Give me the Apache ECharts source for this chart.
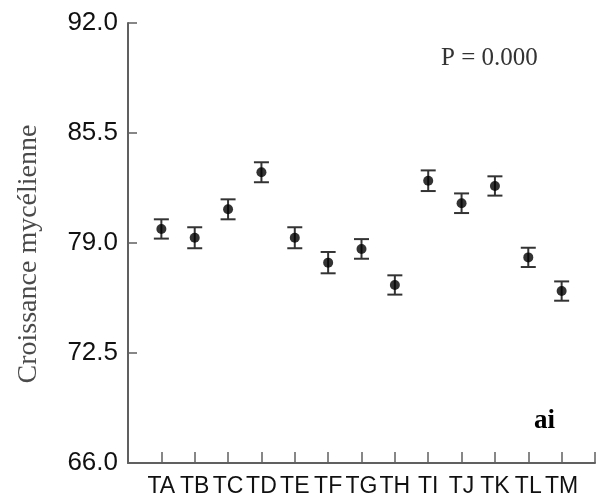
<!DOCTYPE html>
<html>
<head>
<meta charset="utf-8">
<script src="https://cdn.jsdelivr.net/npm/echarts@6/dist/echarts.min.js"></script>
<style>html,body{margin:0;padding:0;background:#fff}#c{width:598px;height:498px}</style>
</head>
<body>
<div id="c"></div>
<script>
var categories = ['TA','TB','TC','TD','TE','TF','TG','TH','TI','TJ','TK','TL','TM'];
var means = [79.83, 79.31, 80.99, 83.18, 79.31, 77.84, 78.65, 76.52, 82.68, 81.35, 82.37, 78.15, 76.16];
var errors = [0.57, 0.62, 0.59, 0.59, 0.62, 0.63, 0.58, 0.57, 0.61, 0.58, 0.57, 0.57, 0.57];
var yTicks = [66.0, 72.5, 79.0, 85.5, 92.0];
var yTitle = 'Croissance mycélienne';
var pText = 'P = 0.000';
var panelText = 'ai';

var axisCats = [''].concat(categories).concat(['']);
var points = means.map(function(v, i){ return [i + 1, v]; });
var bars = means.map(function(v, i){ return [i + 1, v - errors[i], v + errors[i]]; });

var chart = echarts.init(document.getElementById('c'));
chart.setOption({
  animation: false,
  backgroundColor: '#fff',
  grid: { left: 128, top: 23, bottom: 35, right: -9.5, containLabel: false },
  xAxis: {
    type: 'category',
    data: axisCats,
    boundaryGap: false,
    axisLine: { lineStyle: { color: '#606060', width: 2 } },
    axisTick: { inside: false, length: -11, lineStyle: { color: '#606060', width: 1.5 }, interval: 0 },
    axisLabel: { interval: 0, color: '#111', fontFamily: 'Liberation Sans, Arial', fontSize: 23, margin: 12 },
    splitLine: { show: false }
  },
  yAxis: {
    type: 'value',
    min: yTicks[0],
    max: yTicks[yTicks.length - 1],
    interval: 6.5,
    axisLine: { show: true, lineStyle: { color: '#606060', width: 2 } },
    axisTick: { show: true, inside: false, length: -9, lineStyle: { color: '#606060', width: 1.5 } },
    axisLabel: { color: '#111', fontFamily: 'Liberation Sans, Arial', fontSize: 26, margin: 10,
      formatter: function(v){ return v.toFixed(1); } },
    splitLine: { show: false }
  },
  series: [
    {
      type: 'custom',
      data: bars,
      renderItem: function(params, api){
        var x = api.value(0);
        var lo = api.coord([x, api.value(1)]);
        var hi = api.coord([x, api.value(2)]);
        var hw = 7.5;
        var st = { stroke: '#333', lineWidth: 2, fill: null };
        return { type: 'group', children: [
          { type: 'line', shape: { x1: lo[0], y1: lo[1], x2: hi[0], y2: hi[1] }, style: st },
          { type: 'line', shape: { x1: lo[0]-hw, y1: lo[1], x2: lo[0]+hw, y2: lo[1] }, style: st },
          { type: 'line', shape: { x1: hi[0]-hw, y1: hi[1], x2: hi[0]+hw, y2: hi[1] }, style: st }
        ]};
      },
      z: 2
    },
    {
      type: 'scatter',
      data: points,
      symbol: 'circle',
      symbolSize: 10,
      itemStyle: { color: '#000' },
      z: 3
    }
  ],
  graphic: [
    { type: 'text', x: 29, y: 254, rotation: Math.PI / 2,
      style: { text: yTitle, font: '28px "Liberation Serif", serif', fill: '#4a4a4a', align: 'center', verticalAlign: 'middle' } },
    { type: 'text', left: 441, top: 46, style: { text: pText, font: '25px "Liberation Serif", serif', fill: '#333' } },
    { type: 'text', left: 534, top: 408, style: { text: panelText, font: 'bold 27px "Liberation Serif", serif', fill: '#000' } }
  ]
});
</script>
</body>
</html>
